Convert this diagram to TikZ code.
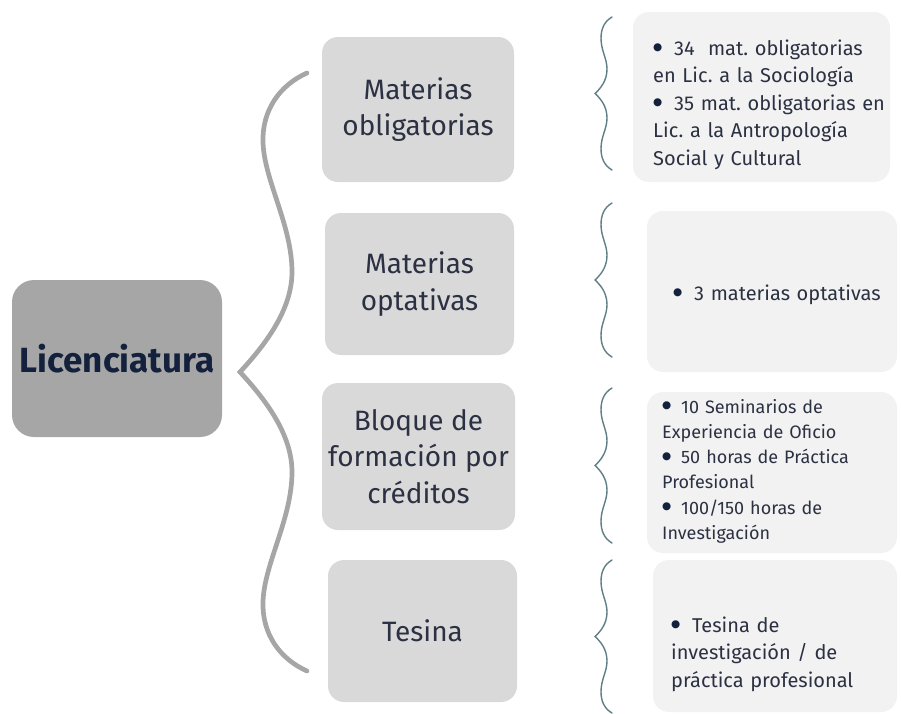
\documentclass[tikz,border=0pt]{standalone}
\usepackage{fontspec}
\setmainfont{Fira Sans}
\newfontfamily\symfont{DejaVu Sans}
\definecolor{licgray}{HTML}{A6A6A6}
\definecolor{midgray}{HTML}{D9D9D9}
\definecolor{lightgray}{HTML}{F2F2F2}
\definecolor{navy}{HTML}{14213D}
\definecolor{inkgray}{HTML}{2B3142}
\definecolor{slate}{HTML}{5F7E86}
\newlength{\bulw}
\newcommand{\itm}{\noindent\hangindent=\bulw\hangafter=1\makebox[\bulw][l]{\raisebox{4.5pt}{\textcolor{navy}{\symfont\fontsize{10.5}{10}\selectfont ●}}}}
\frenchspacing

\begin{document}
\begin{tikzpicture}[x=1pt,y=-1pt,
  box/.style={rectangle,rounded corners=16pt,inner sep=0pt,align=center},
  midbox/.style={box,fill=midgray,text=inkgray,font=\fontsize{28}{36.5}\selectfont},
  infobox/.style={box,fill=lightgray},
  info/.style={anchor=base west,inner sep=0pt,text width=260pt,align=left,text=inkgray},
  bigbrace/.style={draw=licgray,line width=4.7pt,line cap=round},
  sbrace/.style={draw=slate,line width=1.4pt,line cap=round}]
\useasboundingbox (0,0) rectangle (901,713);

% main node
\node [box,rounded corners=22pt,fill=licgray,minimum width=210pt,minimum height=157pt,
  text=navy,font=\fontsize{35}{40}\bfseries] (lic) at (117,358.5) {Licenciatura};

% middle column
\node [midbox,minimum width=192pt,minimum height=145pt] (oblig) at (418,109.5) {Materias\\obligatorias};
\node [midbox,minimum width=189pt,minimum height=142pt] (optat) at (419.5,284) {Materias\\optativas};
\node [midbox,minimum width=193pt,minimum height=147pt] (bloque) at (418.5,456.5) {Bloque de\\formación por\\créditos};
\node [midbox,minimum width=189pt,minimum height=142pt] (tesina) at (422.5,631) {Tesina};

% right column
\node [infobox,minimum width=257pt,minimum height=170pt] (i1) at (761.5,97) {};
\node [infobox,minimum width=250pt,minimum height=161pt] (i2) at (772,291.5) {};
\node [infobox,minimum width=250pt,minimum height=161pt] (i3) at (772,472.5) {};
\node [infobox,minimum width=244pt,minimum height=152pt] (i4) at (775,636) {};

\setlength{\bulw}{21pt}
\node [info,font=\fontsize{20}{27.5}\selectfont] (t1) at (653,55)
  {\itm 34\ \ mat. obligatorias\\en Lic. a la Sociología\par
   \itm 35 mat. obligatorias en\\Lic. a la Antropología\\Social y Cultural};
\node [info,font=\fontsize{20}{27.5}\selectfont] (t2) at (673,300)
  {\itm 3 materias optativas};
\setlength{\bulw}{19pt}
\node [info,font=\fontsize{18}{25.3}\selectfont] (t3) at (662,413)
  {\itm 10 Seminarios de\\Experiencia de Oficio\par
   \itm 50 horas de Práctica\\Profesional\par
   \itm 100/150 horas de\\Investigación};
\setlength{\bulw}{21pt}
\node [info,font=\fontsize{20}{27.5}\selectfont] (t4) at (671,632)
  {\itm Tesina de\\investigación / de\\práctica profesional};

% big brace
\draw [bigbrace] (307,73) .. controls (280,85) and (262,110) .. (263,142)
  .. controls (264,180) and (292,225) .. (292,272)
  .. controls (292,310) and (265,345) .. (240,372)
  .. controls (265,399) and (292,434) .. (292,472)
  .. controls (292,519) and (264,564) .. (263,602)
  .. controls (262,634) and (280,659) .. (307,671);

% small braces
\foreach \x/\t/\b in {612/17/170, 612/203/357, 612/388/543, 612/560/713}{
  \pgfmathsetmacro{\h}{\b-\t}
  \draw [sbrace] (\x,\t) .. controls ({\x-8},{\t+0.03*\h}) and ({\x-11},{\t+0.08*\h}) .. ({\x-11},{\t+0.14*\h})
    .. controls ({\x-11},{\t+0.22*\h}) and ({\x-5},{\t+0.27*\h}) .. ({\x-5},{\t+0.34*\h})
    .. controls ({\x-5},{\t+0.42*\h}) and ({\x-12},{\t+0.47*\h}) .. ({\x-17},{\t+0.5*\h})
    .. controls ({\x-12},{\t+0.53*\h}) and ({\x-5},{\t+0.58*\h}) .. ({\x-5},{\t+0.66*\h})
    .. controls ({\x-5},{\t+0.73*\h}) and ({\x-11},{\t+0.78*\h}) .. ({\x-11},{\t+0.86*\h})
    .. controls ({\x-11},{\t+0.92*\h}) and ({\x-8},{\t+0.97*\h}) .. (\x,\b);
}
\end{tikzpicture}
\end{document}
